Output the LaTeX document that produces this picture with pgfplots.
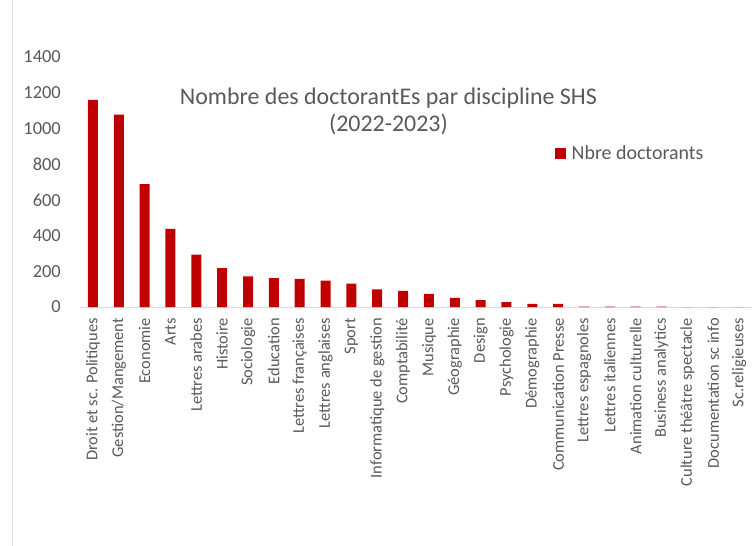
\documentclass[border=0pt]{standalone}
\usepackage{pgfplots}
\pgfplotsset{compat=1.18}
\usepackage{fontspec}
\setmainfont{Carlito}
\definecolor{barred}{HTML}{C00000}
\definecolor{txtgray}{HTML}{595959}
\definecolor{axgray}{HTML}{D9D9D9}
\begin{document}
\begin{tikzpicture}
\path[use as bounding box] (0,0) rectangle (756bp,-546bp);
\draw[axgray] (12.5bp,0) -- (12.5bp,-546bp);
\begin{axis}[
    at={(80bp,-307bp)}, anchor=south west,
    scale only axis,
    width=672bp, height=250bp,
    ymin=0, ymax=1400,
    xmin=-0.5, xmax=25.5,
    ytick={0,200,...,1400},
    yticklabels={0,200,400,600,800,1000,1200,1400},
    xtick=data,
    xticklabels={Droit et sc. Politiques,Gestion/Mangement,Economie,Arts,Lettres arabes,Histoire,Sociologie,Education,Lettres françaises,Lettres anglaises,Sport,Informatique de gestion,Comptabilité,Musique,Géographie,Design,Psychologie,Démographie,Communication Presse,Lettres espagnoles,Lettres italiennes,Animation culturelle,Business analytics,Culture théâtre spectacle,Documentation sc info,Sc.religieuses},
    axis x line*=bottom, axis y line*=left,
    x axis line style={axgray, line width=1pt, -},
    y axis line style={draw=none},
    major tick length=0pt,
    tick label style={text=txtgray, inner sep=0pt},
    yticklabel style={anchor=east, font=\fontsize{18.5}{20}\selectfont},
    yticklabel shift=19bp,
    xticklabel style={rotate=90, anchor=east, font=\fontsize{16.5}{18}\selectfont},
    xticklabel shift=11bp,
    legend style={at={(0.7068,0.614)}, anchor=west, draw=none, fill=none,
        inner sep=0pt, font=\fontsize{20}{22}\selectfont, text=txtgray,
        nodes={inner sep=0pt}, column sep=5.5bp},
    legend image code/.code={\fill[barred] (0bp,-5.5bp) rectangle (11bp,5.5bp);},
    clip=false,
]
\addplot[ybar, bar width=10bp, fill=barred, draw=none, bar shift=0pt] coordinates {
(0,1160) (1,1078) (2,688) (3,437) (4,293) (5,218) (6,172) (7,162) (8,157) (9,148)
(10,131) (11,99) (12,90) (13,73) (14,51) (15,38) (16,28) (17,17) (18,18) (19,2)
(20,2) (21,2) (22,2) (23,0) (24,0) (25,0)
};
\addlegendentry{Nbre doctorants}
\node[font=\fontsize{24}{27}\selectfont, text=txtgray, align=center] at (rel axis cs:0.459,0.784)
  {Nombre des doctorantEs par discipline SHS\\(2022-2023)};
\end{axis}
\end{tikzpicture}
\end{document}
